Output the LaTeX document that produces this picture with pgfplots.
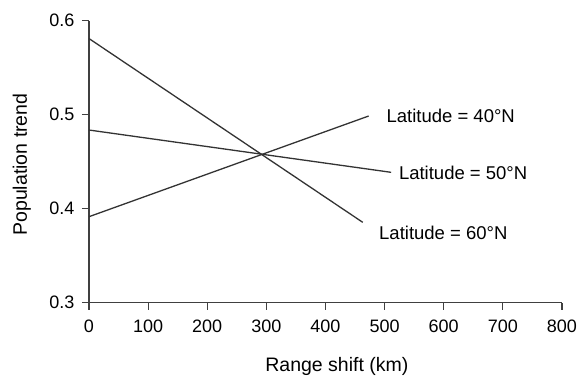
\documentclass[border=0pt]{standalone}
\usepackage{pgfplots}
\pgfplotsset{compat=1.18}
\usepackage{fontspec}
\setmainfont{Liberation Sans}
\begin{document}
\begin{tikzpicture}
\useasboundingbox (-89pt,-75.3pt) rectangle (490pt,302.7pt);
\begin{axis}[
  at={(0,0)}, anchor=south west,
  scale only axis, width=473pt, height=282pt,
  xmin=0, xmax=800, ymin=0.3, ymax=0.6,
  axis x line*=bottom, axis y line*=left,
  axis line style={line width=1.2pt, color=black!75},
  xtick={0,100,...,800}, ytick={0.3,0.4,0.5,0.6},
  xtick align=outside, ytick align=outside, major tick length=7pt,
  every tick/.style={line width=1.2pt, color=black!75},
  /pgf/number format/assume math mode=true,
  yticklabel style={/pgf/number format/fixed, /pgf/number format/precision=1, /pgf/number format/fixed zerofill, font=\fontsize{18}{21}\selectfont, xshift=-4pt},
  xticklabel style={font=\fontsize{18}{21}\selectfont, yshift=-7pt},
  xlabel={Range shift (km)},
  ylabel={Population trend},
  xlabel style={font=\fontsize{19.5}{23}\selectfont, at={(axis description cs:0.524,-0.227)}, anchor=center},
  ylabel style={font=\fontsize{19.5}{23}\selectfont, at={(axis description cs:-0.142,0.49)}, anchor=center},
  clip=false,
]
\addplot[line width=1.3pt, color=black!80] coordinates {(0,0.3915) (473,0.4986)};
\addplot[line width=1.3pt, color=black!80] coordinates {(0,0.4837) (511,0.4387)};
\addplot[line width=1.3pt, color=black!80] coordinates {(0,0.581) (463,0.3855)};
\node[anchor=west, font=\fontsize{18.5}{22}\selectfont, inner sep=0pt] at (axis cs:503,0.4986) {Latitude = 40°N};
\node[anchor=west, font=\fontsize{18.5}{22}\selectfont, inner sep=0pt] at (axis cs:524,0.4383) {Latitude = 50°N};
\node[anchor=west, font=\fontsize{18.5}{22}\selectfont, inner sep=0pt] at (axis cs:490.5,0.3738) {Latitude = 60°N};
\end{axis}
\end{tikzpicture}
\end{document}
